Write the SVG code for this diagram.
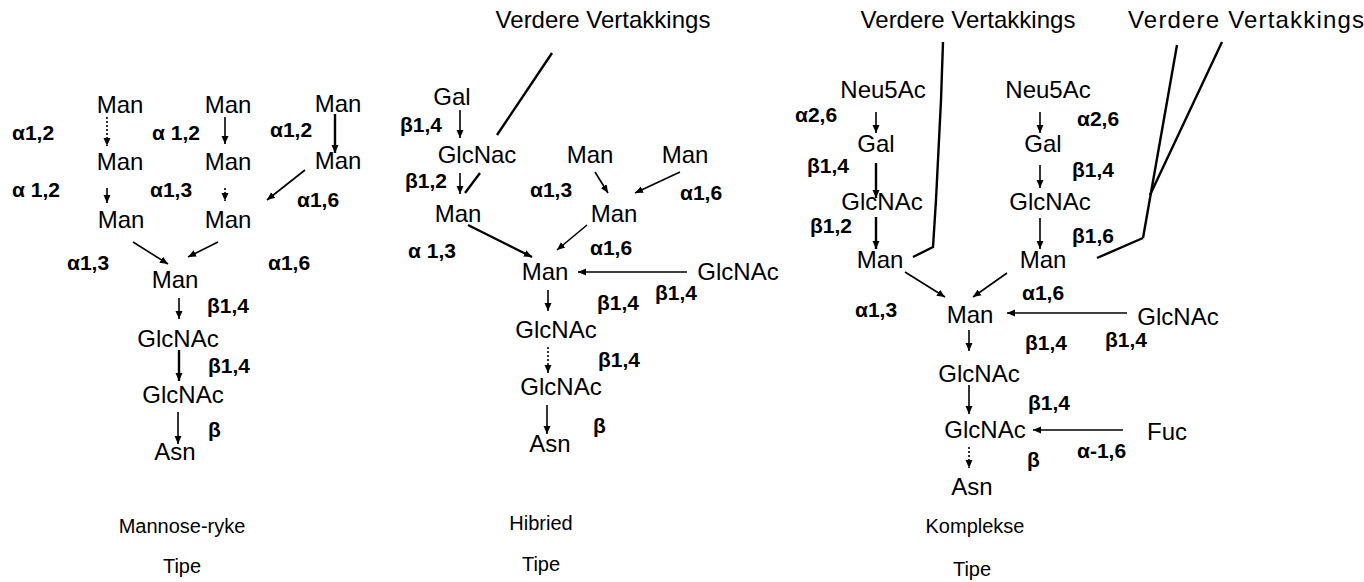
<svg xmlns="http://www.w3.org/2000/svg" width="1364" height="582" viewBox="0 0 1364 582">
  <style>
    .n { font-family: "Liberation Sans", Arial, sans-serif; font-size: 24px; fill: #000; text-anchor: middle; }
    .t { font-family: "Liberation Sans", Arial, sans-serif; font-size: 24px; fill: #000; }
    .b { font-family: "Liberation Sans", Arial, sans-serif; font-size: 21px; font-weight: bold; fill: #000; }
    .cap { font-family: "Liberation Sans", Arial, sans-serif; font-size: 20px; fill: #000; text-anchor: middle; }
    .c { stroke: #000; stroke-width: 1.6; fill: none; }
    .a { marker-end: url(#head); }
    .d { stroke-dasharray: 2 2; }
    .w { stroke-width: 2.4; }
  </style>
  <defs>
    <marker id="head" markerUnits="userSpaceOnUse" markerWidth="9" markerHeight="9" refX="8" refY="4.5" orient="auto">
      <path d="M0,1 L8,4.5 L0,8 Z" fill="#000"/>
    </marker>
  </defs>
  <rect width="1364" height="582" fill="#fff"/>

  <!-- connectors -->
  <g id="connectors">
    <!-- high-mannose type -->
    <line class="c a d" x1="107" y1="117" x2="107" y2="146"/>
    <line class="c a" x1="225" y1="117" x2="225" y2="144"/>
    <line class="c a w" x1="335" y1="114" x2="335" y2="153"/>
    <line class="c a" x1="107" y1="188" x2="107" y2="203"/>
    <line class="c a d" x1="225" y1="188" x2="225" y2="201"/>
    <line class="c a" x1="305" y1="170" x2="267" y2="200"/>
    <line class="c a" x1="133" y1="242" x2="168" y2="264"/>
    <line class="c a" x1="218" y1="242" x2="188" y2="257"/>
    <line class="c a" x1="179" y1="298" x2="179" y2="319"/>
    <line class="c a w" x1="179" y1="350" x2="179" y2="381"/>
    <line class="c a" x1="178" y1="412" x2="178" y2="444"/>

    <!-- hybrid type -->
    <line class="c w" x1="552" y1="53" x2="497" y2="135"/>
    <line class="c a" x1="460" y1="110" x2="460" y2="138"/>
    <line class="c a" x1="460" y1="173" x2="460" y2="194"/>
    <line class="c w" x1="480" y1="173" x2="465" y2="193"/>
    <line class="c a" x1="595" y1="172" x2="608" y2="193"/>
    <line class="c a" x1="680" y1="172" x2="635" y2="193"/>
    <line class="c a w" x1="468" y1="225" x2="532" y2="257"/>
    <line class="c a" x1="587" y1="225" x2="557" y2="250"/>
    <line class="c a" x1="687" y1="272" x2="578" y2="272"/>
    <line class="c a" x1="548" y1="290" x2="548" y2="311"/>
    <line class="c a d" x1="548" y1="347" x2="548" y2="373"/>
    <line class="c a" x1="547" y1="405" x2="547" y2="434"/>

    <!-- complex type -->
    <polyline class="c w" points="943,42 941,100 936,200 933,247 913,257"/>
    <line class="c w" x1="1177" y1="45" x2="1143" y2="238"/>
    <line class="c w" x1="1222" y1="42" x2="1150" y2="195"/>
    <line class="c w" x1="1143" y1="238" x2="1097" y2="258"/>
    <line class="c a" x1="876" y1="112" x2="876" y2="133"/>
    <line class="c a w" x1="876" y1="163" x2="876" y2="198"/>
    <line class="c a w" x1="876" y1="217" x2="876" y2="249"/>
    <line class="c a" x1="1040" y1="112" x2="1040" y2="133"/>
    <line class="c a" x1="1040" y1="165" x2="1040" y2="188"/>
    <line class="c a" x1="1040" y1="218" x2="1040" y2="249"/>
    <line class="c a" x1="905" y1="272" x2="945" y2="297"/>
    <line class="c a" x1="1007" y1="273" x2="973" y2="297"/>
    <line class="c a" x1="1127" y1="313" x2="1007" y2="313"/>
    <line class="c a" x1="969" y1="330" x2="969" y2="351"/>
    <line class="c a" x1="969" y1="385" x2="969" y2="414"/>
    <line class="c a" x1="1123" y1="430" x2="1033" y2="430"/>
    <line class="c a d" x1="969" y1="447" x2="969" y2="468"/>
  </g>

  <!-- high-mannose type nodes -->
  <g id="hm-man-1a"><text class="n" x="120" y="113">Man</text></g>
  <g id="hm-man-1b"><text class="n" x="228" y="113">Man</text></g>
  <g id="hm-man-1c"><text class="n" x="338" y="112">Man</text></g>
  <g id="hm-man-2a"><text class="n" x="120" y="170">Man</text></g>
  <g id="hm-man-2b"><text class="n" x="228" y="170">Man</text></g>
  <g id="hm-man-2c"><text class="n" x="338" y="169">Man</text></g>
  <g id="hm-man-3a"><text class="n" x="121" y="228">Man</text></g>
  <g id="hm-man-3b"><text class="n" x="228" y="228">Man</text></g>
  <g id="hm-man-core"><text class="n" x="175" y="288">Man</text></g>
  <g id="hm-glcnac-1"><text class="n" x="178" y="347">GlcNAc</text></g>
  <g id="hm-glcnac-2"><text class="n" x="183" y="403">GlcNAc</text></g>
  <g id="hm-asn"><text class="n" x="175" y="460">Asn</text></g>

  <!-- hybrid type nodes -->
  <g id="hy-branch"><text class="n" x="603" y="28">Verdere Vertakkings</text></g>
  <g id="hy-gal"><text class="n" x="452" y="105">Gal</text></g>
  <g id="hy-glcnac-ant"><text class="n" x="477" y="163">GlcNac</text></g>
  <g id="hy-man-1a"><text class="n" x="590" y="163">Man</text></g>
  <g id="hy-man-1b"><text class="n" x="685" y="163">Man</text></g>
  <g id="hy-man-2a"><text class="n" x="458" y="222">Man</text></g>
  <g id="hy-man-2b"><text class="n" x="614" y="222">Man</text></g>
  <g id="hy-man-core"><text class="n" x="545" y="280">Man</text></g>
  <g id="hy-glcnac-bis"><text class="n" x="738" y="280">GlcNAc</text></g>
  <g id="hy-glcnac-1"><text class="n" x="556" y="338">GlcNAc</text></g>
  <g id="hy-glcnac-2"><text class="n" x="561" y="395">GlcNAc</text></g>
  <g id="hy-asn"><text class="n" x="550" y="452">Asn</text></g>

  <!-- complex type nodes -->
  <g id="cx-branch-1"><text class="n" x="968" y="28">Verdere Vertakkings</text></g>
  <g id="cx-branch-2"><text class="t" x="1128" y="28" textLength="236" lengthAdjust="spacing">Verdere Vertakkings</text></g>
  <g id="cx-neu5ac-a"><text class="n" x="883" y="98">Neu5Ac</text></g>
  <g id="cx-gal-a"><text class="n" x="876" y="152">Gal</text></g>
  <g id="cx-glcnac-a"><text class="n" x="882" y="210">GlcNAc</text></g>
  <g id="cx-man-a"><text class="n" x="880" y="268">Man</text></g>
  <g id="cx-neu5ac-b"><text class="n" x="1048" y="98">Neu5Ac</text></g>
  <g id="cx-gal-b"><text class="n" x="1043" y="152">Gal</text></g>
  <g id="cx-glcnac-b"><text class="n" x="1050" y="210">GlcNAc</text></g>
  <g id="cx-man-b"><text class="n" x="1043" y="268">Man</text></g>
  <g id="cx-man-core"><text class="n" x="970" y="323">Man</text></g>
  <g id="cx-glcnac-bis"><text class="n" x="1178" y="325">GlcNAc</text></g>
  <g id="cx-glcnac-1"><text class="n" x="979" y="382">GlcNAc</text></g>
  <g id="cx-glcnac-2"><text class="n" x="985" y="438">GlcNAc</text></g>
  <g id="cx-fuc"><text class="n" x="1167" y="440">Fuc</text></g>
  <g id="cx-asn"><text class="n" x="972" y="495">Asn</text></g>

  <!-- linkage labels -->
  <g id="linkages">
    <text class="b" x="12" y="140">α1,2</text>
    <text class="b" x="152" y="140">α 1,2</text>
    <text class="b" x="270" y="137">α1,2</text>
    <text class="b" x="12" y="197">α 1,2</text>
    <text class="b" x="150" y="197">α1,3</text>
    <text class="b" x="297" y="207">α1,6</text>
    <text class="b" x="67" y="270">α1,3</text>
    <text class="b" x="268" y="270">α1,6</text>
    <text class="b" x="207" y="313">β1,4</text>
    <text class="b" x="208" y="373">β1,4</text>
    <text class="b" x="208" y="437">β</text>

    <text class="b" x="400" y="132">β1,4</text>
    <text class="b" x="405" y="188">β1,2</text>
    <text class="b" x="530" y="197">α1,3</text>
    <text class="b" x="680" y="200">α1,6</text>
    <text class="b" x="408" y="258">α 1,3</text>
    <text class="b" x="590" y="255">α1,6</text>
    <text class="b" x="655" y="300">β1,4</text>
    <text class="b" x="597" y="310">β1,4</text>
    <text class="b" x="598" y="367">β1,4</text>
    <text class="b" x="593" y="433">β</text>

    <text class="b" x="795" y="122">α2,6</text>
    <text class="b" x="807" y="173">β1,4</text>
    <text class="b" x="810" y="233">β1,2</text>
    <text class="b" x="1077" y="126">α2,6</text>
    <text class="b" x="1072" y="177">β1,4</text>
    <text class="b" x="1072" y="243">β1,6</text>
    <text class="b" x="855" y="317">α1,3</text>
    <text class="b" x="1022" y="300">α1,6</text>
    <text class="b" x="1025" y="350">β1,4</text>
    <text class="b" x="1105" y="347">β1,4</text>
    <text class="b" x="1028" y="410">β1,4</text>
    <text class="b" x="1077" y="458">α-1,6</text>
    <text class="b" x="1027" y="467">β</text>
  </g>

  <!-- type captions -->
  <g id="captions">
    <text class="cap" x="182" y="533">Mannose-ryke</text>
    <text class="cap" x="182" y="573">Tipe</text>
    <text class="cap" x="541" y="530">Hibried</text>
    <text class="cap" x="541" y="571">Tipe</text>
    <text class="cap" x="975" y="533">Komplekse</text>
    <text class="cap" x="972" y="576">Tipe</text>
  </g>
</svg>
